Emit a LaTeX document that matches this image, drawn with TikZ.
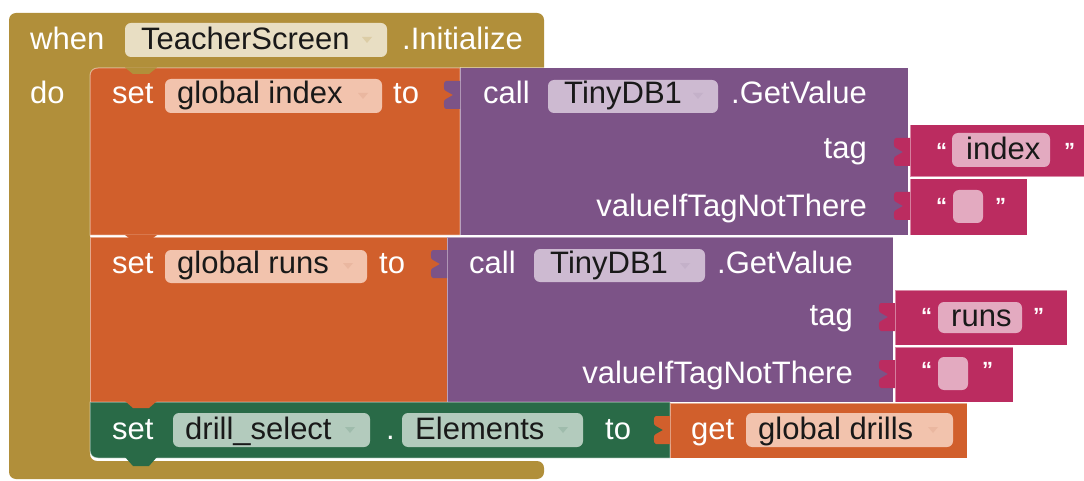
\documentclass[tikz,border=0pt]{standalone}
\usepackage{fontspec}
\setmainfont{Liberation Sans}

\definecolor{evt}{HTML}{B18F3A}
\definecolor{evtf}{HTML}{E8DEC3}
\definecolor{var}{HTML}{D15F2C}
\definecolor{varf}{HTML}{F2C3AD}
\definecolor{comp}{HTML}{7C5387}
\definecolor{compf}{HTML}{CDBAD1}
\definecolor{txt}{HTML}{BB2C60}
\definecolor{txtf}{HTML}{E3AAC0}
\definecolor{setr}{HTML}{296A47}
\definecolor{setrf}{HTML}{B3CBBD}

\newcommand\blockfont{\fontsize{31}{36}\selectfont}
\newcommand\quotefont{\fontsize{22}{26}\selectfont\bfseries}

% plug on the left of a value block: \plug{colour}{left}{top}
\newcommand\plug[3]{%
  \fill[#1] (#2,#3+13) -- ++(-14,0) .. controls ++(-3,0) and ++(-3,0) .. ++(0,10)
    -- ++(7,4) -- ++(-7,4) .. controls ++(-3,0) and ++(-3,0) .. ++(0,10) -- ++(14,0) -- cycle;}
% rounded field behind a label: \field{colour}{x1}{y1}{x2}{y2}
\newcommand\field[5]{\fill[#1, rounded corners=6pt] (#2,#3) rectangle (#4,#5);}
% small dropdown triangle
\newcommand\ddarrow[3]{\fill[#1] (#2-5,#3-3) -- (#2+5,#3-3) -- (#2,#3+3) -- cycle;}

\begin{document}
\begin{tikzpicture}[x=1pt,y=-1pt,
    blk/.style={draw=white, draw opacity=0.45, line width=1pt},
    lbl/.style={text=white, inner sep=0pt, font=\blockfont, anchor=base west},
    rlbl/.style={lbl, anchor=base east},
    flbl/.style={lbl, text=black!90},
    qlbl/.style={lbl, font=\quotefont}]
  \useasboundingbox (0,0) rectangle (1084,481);
  \clip (0,0) rectangle (1084,481);

  % draw the event block
  \fill[evt, rounded corners=7pt] (9,13) -- (544,13) -- (544,80) -- (90,80)
    -- (90,461) -- (544,461) -- (544,479) -- (9,479) -- cycle;

  % first setter with its GetValue call
  \filldraw[blk, fill=var] (90,235) -- (90,76) .. controls (90,71) and (93,68) .. (98,68)
    -- (460,68) -- (460,235) -- cycle;
  \fill[evt] (125,67.5) -- (133,74) -- (149,74) -- (157,67.5) -- cycle;
  \filldraw[blk, fill=comp] (460,68) rectangle (908,235);
  \plug{comp}{460}{68}
  \filldraw[blk, fill=txt] (910,125) rectangle (1090,177);
  \plug{txt}{910}{125}
  \filldraw[blk, fill=txt] (910,179) rectangle (1027,235);
  \plug{txt}{910}{179}

  % second setter
  \filldraw[blk, fill=var] (90,237) rectangle (447,402);
  \fill[var] (125,235) -- (133,241) -- (149,241) -- (157,235) -- cycle;
  \filldraw[blk, fill=comp] (447,237) rectangle (893,402);
  \plug{comp}{447}{237}
  \filldraw[blk, fill=txt] (895,290) rectangle (1067,345);
  \plug{txt}{895}{290}
  \filldraw[blk, fill=txt] (895,347) rectangle (1013,402);
  \plug{txt}{895}{347}

  % property setter at the bottom
  \filldraw[blk, fill=setr] (90,402) -- (670,402) -- (670,458) -- (98,458)
    .. controls (93,458) and (90,455) .. (90,450) -- cycle;
  \fill[var] (125,401) -- (133,408) -- (149,408) -- (157,401) -- cycle;
  \fill[setr] (125,457) -- (133,466) -- (149,466) -- (157,457) -- cycle;
  \filldraw[blk, fill=var] (670,403) rectangle (967,458);
  \plug{var}{670}{403}

  % fields
  \field{evtf}{125}{23}{387}{57}
  \field{varf}{165}{79}{382}{113}
  \field{compf}{548}{80}{718}{113}
  \field{txtf}{952}{133}{1050}{167}
  \field{txtf}{953}{190}{983}{223}
  \field{varf}{165}{250}{367}{283}
  \field{compf}{534}{249}{705}{282}
  \field{txtf}{938}{302}{1022}{333}
  \field{txtf}{938}{357}{968}{390}
  \field{setrf}{173}{413}{370}{447}
  \field{setrf}{402}{413}{583}{447}
  \field{varf}{746}{413}{953}{447}

  \foreach \x/\y/\c in {367/40/evt, 363/96/var, 698/96/comp, 348/266/var,
      685/266/comp, 350/430/setr, 563/430/setr, 933/430/var}
    {\ddarrow{\c!45!white}{\x}{\y}}

  % white block texts
  \foreach \n/\x/\y/\t in {when/30/50/{when}, init/402/50/{.Initialize}, do/30/104/{do},
      set1/112/104/{set}, to1/393/104/{to}, call1/483/104/{call},
      set2/112/273/{set}, to2/379/273/{to}, call2/469/273/{call},
      set3/112/439/{set}, dot/386/439/{.}, to3/605/439/{to}, get/691/439/{get}}
    \node[lbl] (\n) at (\x,\y) {\t};
  \foreach \n/\x/\y/\t in {gv1/867/104/{.GetValue}, tag1/867/159/{tag},
      vt1/867/216/{valueIfTagNotThere}, gv2/853/273/{.GetValue},
      tag2/853/325/{tag}, vt2/853/383/{valueIfTagNotThere}}
    \node[rlbl] (\n) at (\x,\y) {\t};

  % texts in the fields
  \foreach \n/\x/\y/\t in {scr/141/50/{TeacherScreen}, gidx/177/104/{global index},
      db1/564/104/{TinyDB1}, idx/966/160/{index}, gruns/177/273/{global runs},
      db2/550/273/{TinyDB1}, runs/951/326/{runs}, drsel/185/439/{drill\_select},
      elem/415/439/{Elements}, gdr/758/439/{global drills}}
    \node[flbl] (\n) at (\x,\y) {\t};

  % quote marks round the text strings
  \foreach \n/\x/\y/\t in {lq1/936/159/{“}, rq1/1064/159/{”}, lq2/936/214/{“},
      rq2/995/214/{”}, lq3/921/323/{“}, rq3/1033/323/{”}, lq4/921/377/{“},
      rq4/982/377/{”}}
    \node[qlbl] (\n) at (\x,\y) {\t};
\end{tikzpicture}
\end{document}
